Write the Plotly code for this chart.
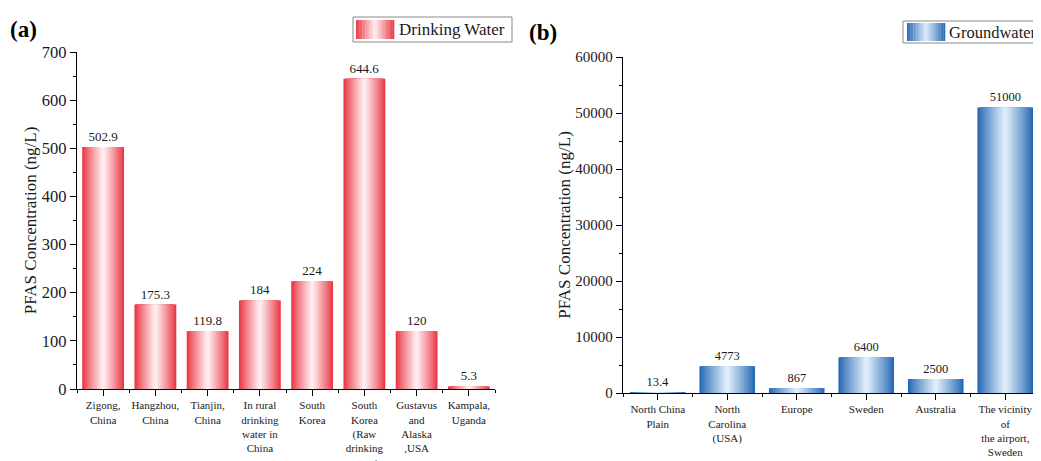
import plotly.graph_objects as go

# the page adds an 8px body margin, so the figure is drawn 8px smaller and coordinates shifted
PAGE_W, PAGE_H, OFF = 1041, 461, 8
W, H = PAGE_W - OFF, PAGE_H - OFF

# ---------------- data ----------------
dw_categories = ["Zigong,<br>China", "Hangzhou,<br>China", "Tianjin,<br>China",
                 "In rural<br>drinking<br>water in<br>China", "South<br>Korea",
                 "South<br>Korea<br>(Raw<br>drinking<br>water)",
                 "Gustavus<br>and<br>Alaska<br>,USA", "Kampala,<br>Uganda"]
dw_values = [502.9, 175.3, 119.8, 184, 224, 644.6, 120, 5.3]
dw_labels = ["502.9", "175.3", "119.8", "184", "224", "644.6", "120", "5.3"]

gw_categories = ["North China<br>Plain", "North<br>Carolina<br>(USA)", "Europe",
                 "Sweden", "Australia", "The vicinity<br>of<br>the airport,<br>Sweden"]
gw_values = [13.4, 4773, 867, 6400, 2500, 51000]
gw_labels = ["13.4", "4773", "867", "6400", "2500", "51000"]

dw_ticks = [0, 100, 200, 300, 400, 500, 600, 700]
gw_ticks = [0, 10000, 20000, 30000, 40000, 50000, 60000]

# ---------------- styles ----------------
FONT = "Liberation Serif"
TXT = "#1a1a1a"
RED_EDGE, RED_CENTER = (233, 55, 66), (255, 238, 241)
BLUE_EDGE, BLUE_CENTER = (38, 104, 180), (222, 237, 250)
BAR_W = 0.8
NLAYERS = 18


def mix(c1, c2, t):
    return "rgb(%d,%d,%d)" % tuple(round(a + (b - a) * t) for a, b in zip(c1, c2))


def px_x(p):
    return (p - OFF) / W


def px_y(p):
    return 1 - (p - OFF) / H


fig = go.Figure()


def add_gradient_bars(cats, vals, labels, edge, center, xa, ya, lsize):
    xs = list(range(len(cats)))
    for k in range(NLAYERS):
        t = k / (NLAYERS - 1)
        width = BAR_W * (1 - k / NLAYERS)
        fig.add_trace(go.Bar(
            x=xs, y=vals, width=width,
            marker=dict(color=mix(edge, center, t ** 0.9), line=dict(width=0)),
            text=labels if k == 0 else None,
            textposition="outside" if k == 0 else "none",
            textfont=dict(family=FONT, size=lsize, color=TXT),
            constraintext="none", cliponaxis=False,
            xaxis=xa, yaxis=ya, showlegend=False, hoverinfo="skip"))


add_gradient_bars(dw_categories, dw_values, dw_labels, RED_EDGE, RED_CENTER, "x", "y", 13)
add_gradient_bars(gw_categories, gw_values, gw_labels, BLUE_EDGE, BLUE_CENTER, "x2", "y2", 12.5)

axis_common = dict(showline=True, linecolor="black", linewidth=1.3, ticks="outside",
                   tickcolor="black", tickwidth=1.2, ticklen=6, showgrid=False,
                   zeroline=False, automargin=False)


def xaxis_cfg(cats, domain, anchor):
    n = len(cats)
    d = dict(axis_common)
    d.update(domain=domain, anchor=anchor, range=[-0.5, n - 0.5],
             tickmode="array", tickvals=list(range(n)), ticktext=cats,
             tickfont=dict(family=FONT, size=11, color=TXT),
             minor=dict(tickmode="array", tickvals=[i + 0.5 for i in range(-1, n)],
                        ticks="outside", ticklen=3, tickcolor="black", tickwidth=1))
    return d


def yaxis_cfg(ticks, domain, anchor, size, minor_step):
    d = dict(axis_common)
    d.update(domain=domain, anchor=anchor, range=[ticks[0], ticks[-1]],
             tickmode="array", tickvals=ticks, ticktext=[str(t) for t in ticks],
             tickfont=dict(family=FONT, size=size, color=TXT),
             title=dict(text="PFAS Concentration (ng/L)",
                        font=dict(family=FONT, size=17, color=TXT), standoff=0),
             minor=dict(tick0=0, dtick=minor_step, ticks="outside", ticklen=3,
                        tickcolor="black", tickwidth=1))
    return d


fig.update_layout(
    width=W, height=H, margin=dict(l=0, r=0, t=0, b=0, autoexpand=False),
    plot_bgcolor="white", paper_bgcolor="white", barmode="overlay",
    showlegend=False,
    xaxis=xaxis_cfg(dw_categories, [px_x(77), px_x(495)], "y"),
    yaxis=yaxis_cfg(dw_ticks, [px_y(389), px_y(52)], "x", 16.5, 50),
    xaxis2=xaxis_cfg(gw_categories, [px_x(623), px_x(1040)], "y2"),
    yaxis2=yaxis_cfg(gw_ticks, [px_y(393), px_y(57)], "x2", 15, 5000),
)

# ---------------- panel labels ----------------
for txt, xp, yp in [("(a)", 8, 29), ("(b)", 527, 32)]:
    fig.add_annotation(text="<b>%s</b>" % txt, xref="paper", yref="paper",
                       x=px_x(xp), y=px_y(yp), xanchor="left", yanchor="middle",
                       showarrow=False, font=dict(family=FONT, size=23, color="black"))


# ---------------- custom legends (gradient swatch) ----------------
def legend_box(box, sw, text, edge, center, tx, ty, size):
    x0, y0, x1, y1 = box
    fig.add_shape(type="rect", xref="paper", yref="paper",
                  x0=px_x(x0), x1=px_x(x1), y0=px_y(y1), y1=px_y(y0),
                  line=dict(color="#8a8a8a", width=1), fillcolor="white", layer="above")
    sx0, sy0, sx1, sy1 = sw
    n = 24
    step = (sx1 - sx0) / n
    for i in range(n):
        pos = (i + 0.5) / n
        t = 1 - abs(pos - 0.5) * 2
        fig.add_shape(type="rect", xref="paper", yref="paper",
                      x0=px_x(sx0 + i * step), x1=px_x(sx0 + (i + 1) * step + 0.3),
                      y0=px_y(sy1), y1=px_y(sy0), line=dict(width=0),
                      fillcolor=mix(edge, center, t), layer="above")
    fig.add_annotation(text=text, xref="paper", yref="paper", x=px_x(tx), y=px_y(ty),
                       xanchor="left", yanchor="middle", showarrow=False,
                       font=dict(family=FONT, size=size, color=TXT))


legend_box((353, 17, 512, 42), (356, 20, 394, 39), "Drinking Water",
           RED_EDGE, RED_CENTER, 397, 29.5, 17)
legend_box((903, 21, 1045, 43), (907, 23, 945, 41), "Groundwater",
           BLUE_EDGE, BLUE_CENTER, 947, 32, 16.5)

fig.write_html("out.html")
